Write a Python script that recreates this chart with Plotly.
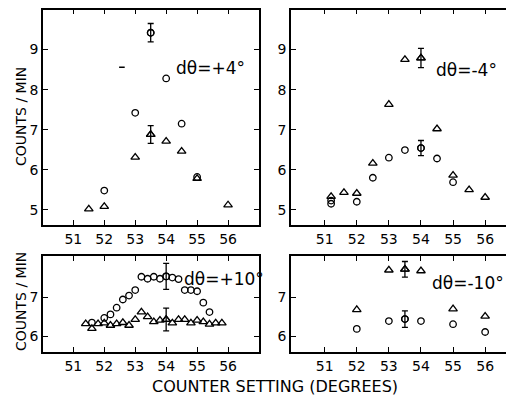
import plotly.graph_objects as go

# ---------------- data ----------------
# Panel A: d theta = +4 deg
a_circ_x = [52.0, 53.0, 53.5, 54.0, 54.5, 55.0]
a_circ_y = [5.48, 7.42, 9.42, 8.28, 7.15, 5.82]
a_circ_err = [0, 0, 0.23, 0, 0, 0]
a_tri_x = [51.5, 52.0, 53.0, 53.5, 54.0, 54.5, 55.0, 56.0]
a_tri_y = [5.02, 5.08, 6.31, 6.88, 6.71, 6.46, 5.78, 5.12]
a_tri_err = [0, 0, 0, 0.22, 0, 0, 0, 0]
a_mark_x = [52.57]
a_mark_y = [8.56]

# Panel B: d theta = -4 deg
b_circ_x = [51.2, 51.2, 52.0, 52.5, 53.0, 53.5, 54.0, 54.5, 55.0]
b_circ_y = [5.23, 5.15, 5.20, 5.80, 6.30, 6.49, 6.54, 6.28, 5.69]
b_circ_err = [0, 0, 0, 0, 0, 0, 0.19, 0, 0]
b_tri_x = [51.2, 51.6, 52.0, 52.5, 53.0, 53.5, 54.0, 54.5, 55.0, 55.5, 56.0]
b_tri_y = [5.33, 5.43, 5.41, 6.16, 7.63, 8.75, 8.79, 7.02, 5.86, 5.50, 5.31]
b_tri_err = [0, 0, 0, 0, 0, 0, 0.24, 0, 0, 0, 0]

# Panel C: d theta = +10 deg
c_circ_x = [51.6, 52.0, 52.2, 52.4, 52.6, 52.8, 53.0, 53.2, 53.4, 53.6,
            53.8, 54.0, 54.2, 54.4, 54.6, 54.8, 55.0, 55.2, 55.4]
c_circ_y = [6.35, 6.47, 6.56, 6.73, 6.94, 7.04, 7.18, 7.52, 7.47, 7.52,
            7.47, 7.53, 7.50, 7.46, 7.18, 7.18, 7.15, 6.86, 6.62]
c_circ_err = [0, 0, 0, 0, 0, 0, 0, 0, 0, 0,
              0, 0.33, 0, 0, 0, 0, 0, 0, 0]
c_tri_x = [51.4, 51.6, 51.8, 52.0, 52.2, 52.4, 52.6, 52.8, 53.0, 53.2, 53.4, 53.6,
           53.8, 54.0, 54.2, 54.4, 54.6, 54.8, 55.0, 55.2, 55.4, 55.6, 55.8]
c_tri_y = [6.32, 6.20, 6.32, 6.34, 6.28, 6.32, 6.35, 6.28, 6.43, 6.62, 6.50, 6.37,
           6.41, 6.43, 6.34, 6.43, 6.43, 6.34, 6.41, 6.37, 6.31, 6.34, 6.34]
c_tri_err = [0, 0, 0, 0, 0, 0, 0, 0, 0, 0, 0, 0,
             0, 0.29, 0, 0, 0, 0, 0, 0, 0, 0, 0]

# Panel D: d theta = -10 deg
d_circ_x = [52.0, 53.0, 53.5, 54.0, 55.0, 56.0]
d_circ_y = [6.19, 6.39, 6.44, 6.39, 6.31, 6.11]
d_circ_err = [0, 0, 0.21, 0, 0, 0]
d_tri_x = [52.0, 53.0, 53.5, 54.0, 55.0, 56.0]
d_tri_y = [6.68, 7.69, 7.71, 7.67, 6.70, 6.51]
d_tri_err = [0, 0, 0.20, 0, 0, 0]

x_ticks = [51, 52, 53, 54, 55, 56]
y_ticks_top = [5, 6, 7, 8, 9]
y_ticks_bottom = [6, 7]
panel_labels = ["dθ=+4°", "dθ=-4°", "dθ=+10°", "dθ=-10°"]
y_title = "COUNTS / MIN"
x_title = "COUNTER SETTING (DEGREES)"

# ---------------- figure ----------------
W, H = 506, 395
FONT = "DejaVu Sans"
fig = go.Figure()

circ_marker = dict(symbol="circle-open", size=6.5, color="black", line=dict(width=1.3, color="black"))
tri_marker = dict(symbol="triangle-up-open", size=7.5, color="black", line=dict(width=1.3, color="black"))


def add_series(xs, ys, errs, marker, xa, ya):
    fig.add_trace(go.Scatter(x=xs, y=ys, mode="markers", marker=marker,
                             xaxis=xa, yaxis=ya, showlegend=False, cliponaxis=False))
    ex = [x for x, e in zip(xs, errs) if e > 0]
    ey = [y for y, e in zip(ys, errs) if e > 0]
    ee = [e for e in errs if e > 0]
    if ex:
        fig.add_trace(go.Scatter(x=ex, y=ey, mode="markers", marker=marker,
                                 error_y=dict(type="data", array=ee, visible=True,
                                              color="black", thickness=1.3, width=3),
                                 xaxis=xa, yaxis=ya, showlegend=False))


add_series(a_circ_x, a_circ_y, a_circ_err, circ_marker, "x", "y")
add_series(a_tri_x, a_tri_y, a_tri_err, tri_marker, "x", "y")
fig.add_trace(go.Scatter(x=a_mark_x, y=a_mark_y, mode="markers",
                         marker=dict(symbol="line-ew", size=4, line=dict(width=1.5, color="black")),
                         xaxis="x", yaxis="y", showlegend=False))
add_series(b_circ_x, b_circ_y, b_circ_err, circ_marker, "x2", "y2")
add_series(b_tri_x, b_tri_y, b_tri_err, tri_marker, "x2", "y2")
add_series(c_circ_x, c_circ_y, c_circ_err, circ_marker, "x3", "y3")
add_series(c_tri_x, c_tri_y, c_tri_err, tri_marker, "x3", "y3")
add_series(d_circ_x, d_circ_y, d_circ_err, circ_marker, "x4", "y4")
add_series(d_tri_x, d_tri_y, d_tri_err, tri_marker, "x4", "y4")

left_dom = [43 / W, 259 / W]
right_dom = [291 / W, 1.0]
top_dom = [(H - 225) / H, (H - 9.5) / H]
bot_dom = [(H - 352) / H, (H - 256) / H]
x_left_range = [50.02, 57.0]
x_right_range = [49.95, 56.65]
y_top_range = [4.62, 10.0]
y_bot_range = [5.6, 8.05]

tickfont = dict(family=FONT, size=14, color="black")


def xax(dom, rng, anchor):
    return dict(domain=dom, range=rng, anchor=anchor, tickvals=x_ticks,
                ticktext=[str(t) for t in x_ticks], ticks="inside", ticklen=5,
                tickwidth=1.3, tickcolor="black", showline=True, linecolor="black",
                linewidth=1.8, mirror="ticks", showgrid=False, zeroline=False,
                tickfont=tickfont, fixedrange=True)


def yax(dom, rng, anchor, ticks, mirror):
    return dict(domain=dom, range=rng, anchor=anchor, tickvals=ticks,
                ticktext=[str(t) for t in ticks], ticks="inside", ticklen=5,
                tickwidth=1.3, tickcolor="black", showline=True, linecolor="black",
                linewidth=1.8, mirror=mirror, showgrid=False, zeroline=False,
                tickfont=tickfont, fixedrange=True)


fig.update_layout(
    width=W, height=H,
    margin=dict(l=0, r=0, t=0, b=0),
    paper_bgcolor="white", plot_bgcolor="white",
    xaxis=xax(left_dom, x_left_range, "y"),
    yaxis=yax(top_dom, y_top_range, "x", y_ticks_top, "ticks"),
    xaxis2=xax(right_dom, x_right_range, "y2"),
    yaxis2=yax(top_dom, y_top_range, "x2", y_ticks_top, False),
    xaxis3=xax(left_dom, x_left_range, "y3"),
    yaxis3=yax(bot_dom, y_bot_range, "x3", y_ticks_bottom, "ticks"),
    xaxis4=xax(right_dom, x_right_range, "y4"),
    yaxis4=yax(bot_dom, y_bot_range, "x4", y_ticks_bottom, False),
)

lab_font = dict(family=FONT, size=17, color="black")
lab_pos = [(210, 68), (466, 70), (224, 279), (468, 283)]
for txt, (px, py) in zip(panel_labels, lab_pos):
    fig.add_annotation(text=txt, x=px / W, y=(H - py) / H, xref="paper", yref="paper",
                       showarrow=False, font=lab_font, xanchor="center", yanchor="middle")

title_font = dict(family=FONT, size=14, color="black")
for cy in (117, 302):
    fig.add_annotation(text=y_title, x=21 / W, y=(H - cy) / H, xref="paper", yref="paper",
                       showarrow=False, textangle=-90, font=title_font,
                       xanchor="center", yanchor="middle")

fig.add_annotation(text=x_title, x=275 / W, y=(H - 386) / H, xref="paper", yref="paper",
                   showarrow=False, font=dict(family=FONT, size=16, color="black"),
                   xanchor="center", yanchor="middle")

fig.write_html("out.html", config={"displayModeBar": False},
               post_script="document.body.style.margin='0px';document.body.style.overflow='hidden';")
